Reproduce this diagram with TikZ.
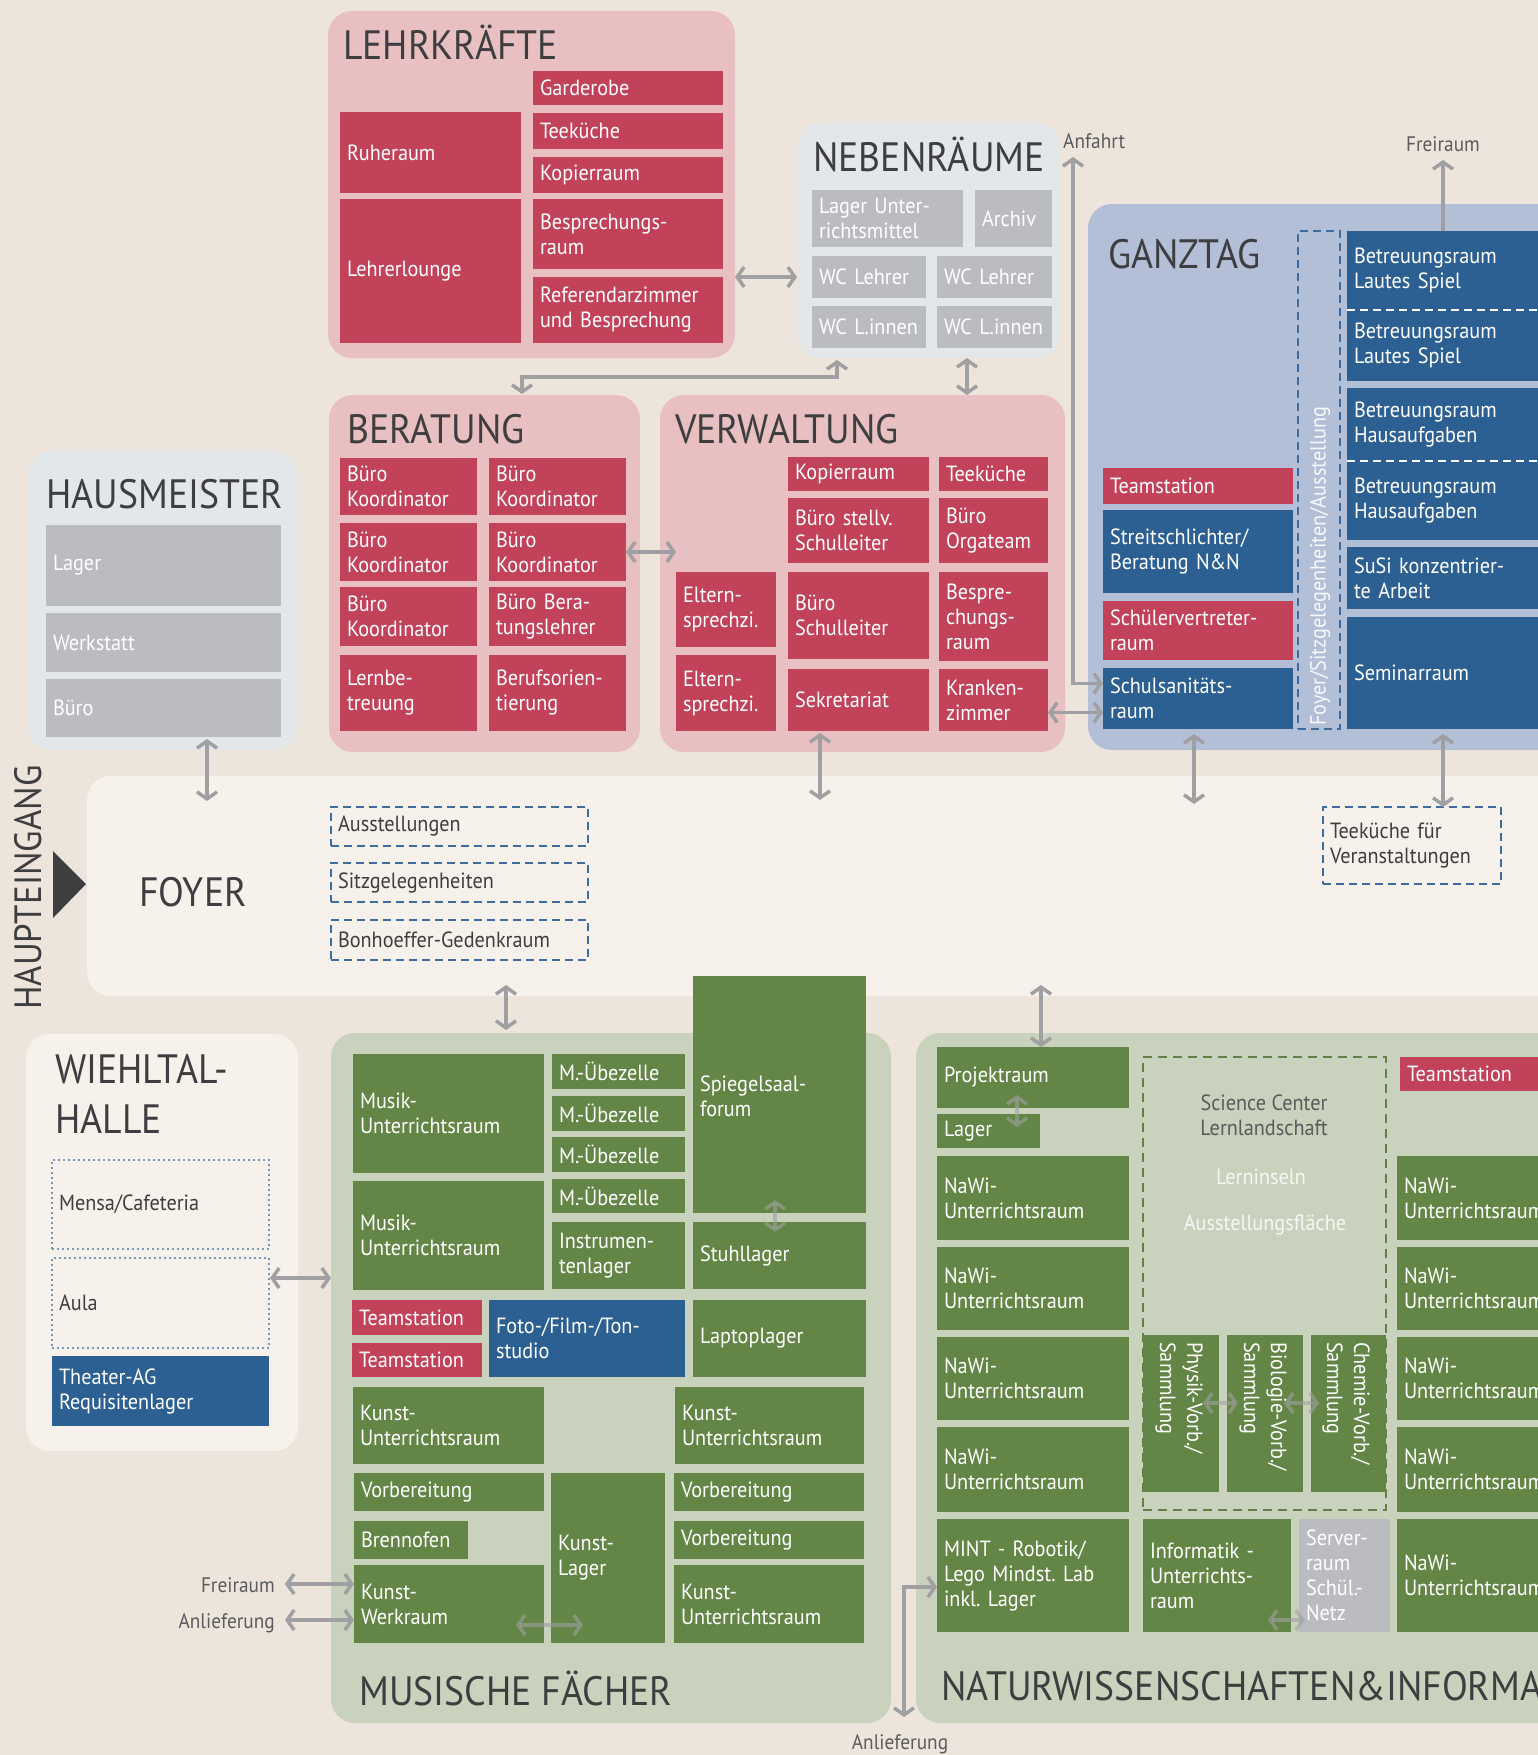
\documentclass[tikz,border=0pt]{standalone}
\usepackage{fontspec}
\setmainfont{PT Sans}[FakeStretch=0.92]
\usetikzlibrary{arrows.meta}

\definecolor{cBg}{RGB}{237,229,219}
\definecolor{cPinkGrp}{RGB}{232,192,193}
\definecolor{cRed}{RGB}{193,66,89}
\definecolor{cGreyGrp}{RGB}{228,231,233}
\definecolor{cGrey}{RGB}{186,188,191}
\definecolor{cBlueGrp}{RGB}{179,190,215}
\definecolor{cBlue}{RGB}{44,95,146}
\definecolor{cFoyer}{RGB}{246,242,235}
\definecolor{cGreenGrp}{RGB}{201,210,188}
\definecolor{cGreen}{RGB}{99,134,70}
\definecolor{cGreenDash}{RGB}{98,128,70}
\definecolor{cArrow}{RGB}{160,160,163}
\definecolor{cTitle}{RGB}{62,62,64}
\definecolor{cDash}{RGB}{60,108,160}

\tikzset{
  >={Straight Barb[length=7pt,width=20pt]},
  grp/.style={anchor=north west, rounded corners=24pt, inner sep=0pt, outer sep=0pt},
  room/.style={anchor=north west, inner xsep=7pt, inner ysep=0pt, outer sep=0pt,
    align=left, text=white, font=\fontsize{22}{25}\selectfont},
  redroom/.style={room, fill=cRed},
  greyroom/.style={room, fill=cGrey},
  blueroom/.style={room, fill=cBlue},
  greenroom/.style={room, fill=cGreen},
  dashroom/.style={room, text=cTitle, draw=cDash, line width=2.5pt, dash pattern=on 8pt off 5pt},
  dotroom/.style={room, text=cTitle, draw=cDash!70, line width=1.8pt, dash pattern=on 1.8pt off 3.2pt},
  scibox/.style={room, draw=cGreenDash, line width=2.5pt, dash pattern=on 9pt off 6pt},
  grptitle/.style={anchor=base west, inner sep=0pt, text=cTitle, font=\fontsize{41}{46}\selectfont},
  lbl/.style={inner sep=0pt, text=cTitle!85, font=\fontsize{21}{24}\selectfont},
  rottext/.style={inner sep=0pt, align=left, text=white, font=\fontsize{22}{27}\selectfont},
  arr/.style={draw=cArrow, line width=3.5pt, <->},
  arrend/.style={draw=cArrow, line width=3.5pt, ->},
  arrfade/.style={arr, draw opacity=0.6},
}

% room box from its two corners (pixel units)
\newcommand\roombox[7]{%
  \pgfmathsetmacro\roomw{#5-#3-14}%
  \pgfmathsetmacro\roomh{#6-#4}%
  \node[#1, text width=\roomw pt, minimum height=\roomh pt] (#2) at (#3,#4) {#7};}
\newcommand\groupbox[6]{%
  \pgfmathsetmacro\grpw{#5-#3}%
  \pgfmathsetmacro\grph{#6-#4}%
  \node[grp, fill=#1, minimum width=\grpw pt, minimum height=\grph pt] (#2) at (#3,#4) {};}

\begin{document}
\begin{tikzpicture}[x=1pt, y=-1pt]

    \path[use as bounding box] (0,0) rectangle (1538,1755);
    \clip (0,0) rectangle (1538,1755);
    \fill[cBg] (0,0) rectangle (1538,1755);

    % groups
    \groupbox{cPinkGrp}{lehr}{328}{11}{735}{358}
    \groupbox{cGreyGrp}{neben}{797}{123}{1060}{358}
    \groupbox{cBlueGrp}{ganz}{1088}{204}{1580}{750}
    \groupbox{cGreyGrp}{haus}{28}{451}{298}{750}
    \groupbox{cPinkGrp}{berat}{329}{395}{640}{752}
    \groupbox{cPinkGrp}{verw}{660}{395}{1065}{752}
    \groupbox{cFoyer}{foyer}{87}{776}{1580}{996}
    \groupbox{cFoyer}{wiehl}{26}{1034}{298}{1451}
    \groupbox{cGreenGrp}{musi}{331}{1033}{891}{1723}
    \groupbox{cGreenGrp}{nawi}{916}{1033}{1580}{1723}

    % titles
    \node[grptitle] (tLehr) at (343,60) {LEHRKRÄFTE};
    \node[grptitle] (tNeben) at (813,172) {NEBENRÄUME};
    \node[grptitle] (tGanz) at (1108,268) {GANZTAG};
    \node[grptitle] (tHaus) at (46,508) {HAUSMEISTER};
    \node[grptitle] (tBerat) at (347,443) {BERATUNG};
    \node[grptitle] (tVerw) at (675,443) {VERWALTUNG};
    \node[grptitle] (tFoyer) at (139,906) {FOYER};
    \node[grptitle] (tWiehlA) at (55,1083) {WIEHLTAL-};
    \node[grptitle] (tWiehlB) at (55,1133) {HALLE};
    \node[grptitle] (tMusi) at (359,1705) {MUSISCHE FÄCHER};
    \node[grptitle] (tNawi) at (941,1700) {NATURWISSENSCHAFTEN\&INFORMATIK};
    \node[grptitle, rotate=90, anchor=base west, font=\fontsize{38}{42}\selectfont] (tEingang) at (41,1010) {HAUPTEINGANG};
    \fill[cTitle] (53,851) -- (86,884) -- (53,918) -- cycle;

    % Lehrkraefte
    \roombox{redroom}{garderobe}{533}{71}{723}{105}{Garderobe}
    \roombox{redroom}{ruheraum}{340}{112}{521}{193}{Ruheraum}
    \roombox{redroom}{teeL}{533}{113}{723}{149}{Teeküche}
    \roombox{redroom}{kopierL}{533}{157}{723}{193}{Kopierraum}
    \roombox{redroom}{besprL}{533}{199}{723}{269}{Besprechungs-\\raum}
    \roombox{redroom}{lounge}{340}{199}{521}{343}{Lehrerlounge}
    \roombox{redroom}{referendar}{533}{277}{723}{343}{Referendarzimmer\\und~Besprechung}

    % Nebenraeume
    \roombox{greyroom}{lagerUM}{812}{190}{963}{247}{Lager~Unter-\\richtsmittel}
    \roombox{greyroom}{archiv}{975}{190}{1052}{247}{Archiv}
    \roombox{greyroom}{wcLA}{812}{256}{926}{298}{WC~Lehrer}
    \roombox{greyroom}{wcLB}{937}{256}{1052}{298}{WC~Lehrer}
    \roombox{greyroom}{wcIA}{812}{306}{926}{348}{WC~L.innen}
    \roombox{greyroom}{wcIB}{937}{306}{1052}{348}{WC~L.innen}

    % Ganztag
    \roombox{blueroom}{lautA}{1347}{231}{1560}{310}{Betreuungsraum\\Lautes~Spiel}
    \roombox{blueroom}{lautB}{1347}{310}{1560}{381}{Betreuungsraum\\Lautes~Spiel}
    \roombox{blueroom}{hausaufA}{1347}{388}{1560}{461}{Betreuungsraum\\Hausaufgaben}
    \roombox{blueroom}{hausaufB}{1347}{461}{1560}{540}{Betreuungsraum\\Hausaufgaben}
    \roombox{blueroom}{susi}{1347}{547}{1560}{609}{SuSi~konzentrier-\\te~Arbeit}
    \roombox{blueroom}{seminar}{1347}{617}{1560}{729}{Seminarraum}
    \draw[white, line width=2.5pt, dash pattern=on 8pt off 5pt] (lautA.south west) -- (lautA.south east);
    \draw[white, line width=2.5pt, dash pattern=on 8pt off 5pt] (hausaufA.south west) -- (hausaufA.south east);
    \roombox{redroom}{teamG}{1103}{468}{1293}{504}{Teamstation}
    \roombox{blueroom}{streit}{1103}{510}{1293}{593}{Streitschlichter/\\Beratung~N\&N}
    \roombox{redroom}{schuelerV}{1103}{601}{1293}{660}{Schülervertreter-\\raum}
    \roombox{blueroom}{sani}{1103}{668}{1293}{729}{Schulsanitäts-\\raum}
    \roombox{dashroom}{foyerStrip}{1298}{231}{1340}{729}{}
    \node[rottext, rotate=90, anchor=west, text=white!90!cBlueGrp] (foyerStripTxt) at (1320,726) {Foyer/Sitzgelegenheiten/Ausstellung};

    % Hausmeister
    \roombox{greyroom}{lagerH}{46}{525}{281}{606}{Lager}
    \roombox{greyroom}{werkstatt}{46}{613}{281}{672}{Werkstatt}
    \roombox{greyroom}{bueroH}{46}{679}{281}{737}{Büro}

    % Beratung
    \foreach \n/\ya/\yb in {A/458/515, B/523/581, C/587/646} {
        \roombox{redroom}{koord\n}{340}{\ya}{477}{\yb}{Büro\\Koordinator}
    }
    \roombox{redroom}{koordD}{489}{458}{626}{515}{Büro\\Koordinator}
    \roombox{redroom}{koordE}{489}{523}{626}{581}{Büro\\Koordinator}
    \roombox{redroom}{beratL}{489}{587}{626}{646}{Büro~Bera-\\tungslehrer}
    \roombox{redroom}{lernbe}{340}{655}{477}{731}{Lernbe-\\treuung}
    \roombox{redroom}{berufs}{489}{655}{626}{731}{Berufsorien-\\tierung}

    % Verwaltung
    \roombox{redroom}{kopierV}{788}{457}{929}{491}{Kopierraum}
    \roombox{redroom}{teeV}{939}{457}{1048}{491}{Teeküche}
    \roombox{redroom}{stellv}{788}{498}{929}{563}{Büro~stellv.\\Schulleiter}
    \roombox{redroom}{orga}{939}{498}{1048}{563}{Büro\\Orgateam}
    \roombox{redroom}{elternA}{676}{572}{776}{647}{Eltern-\\sprechzi.}
    \roombox{redroom}{schulleiter}{788}{572}{929}{659}{Büro\\Schulleiter}
    \roombox{redroom}{besprV}{939}{572}{1048}{661}{Bespre-\\chungs-\\raum}
    \roombox{redroom}{elternB}{676}{655}{776}{731}{Eltern-\\sprechzi.}
    \roombox{redroom}{sekretariat}{788}{669}{929}{731}{Sekretariat}
    \roombox{redroom}{kranken}{939}{669}{1048}{731}{Kranken-\\zimmer}

    % Foyer
    \roombox{dashroom}{ausst}{331}{807}{588}{846}{Ausstellungen}
    \roombox{dashroom}{sitz}{331}{863}{588}{902}{Sitzgelegenheiten}
    \roombox{dashroom}{bonh}{331}{920}{588}{960}{Bonhoeffer-Gedenkraum}
    \roombox{dashroom}{teekVer}{1323}{807}{1501}{884}{Teeküche~für\\Veranstaltungen}

    % Wiehltal-Halle
    \roombox{dotroom}{mensa}{52}{1160}{269}{1249}{Mensa/Cafeteria}
    \roombox{dotroom}{aula}{52}{1258}{269}{1348}{Aula}
    \roombox{blueroom}{theater}{52}{1356}{269}{1426}{Theater-AG\\Requisitenlager}

    % Musische Faecher
    \roombox{greenroom}{musikA}{353}{1054}{544}{1173}{Musik-\\Unterrichtsraum}
    \roombox{greenroom}{musikB}{353}{1181}{544}{1290}{Musik-\\Unterrichtsraum}
    \foreach \n/\ya/\yb in {A/1054/1089, B/1096/1131, C/1137/1172, D/1179/1213} {
        \roombox{greenroom}{uebe\n}{552}{\ya}{685}{\yb}{M.-Übezelle}
    }
    \roombox{greenroom}{instrument}{552}{1222}{685}{1289}{Instrumen-\\tenlager}
    \roombox{greenroom}{spiegel}{693}{976}{866}{1213}{}
    \node[room, anchor=north west] (spiegelTxt) at (693,1076) {Spiegelsaal-\\forum};
    \roombox{greenroom}{stuhl}{693}{1222}{866}{1289}{Stuhllager}
    \roombox{redroom}{teamMA}{352}{1300}{482}{1335}{Teamstation}
    \roombox{redroom}{teamMB}{352}{1343}{482}{1377}{Teamstation}
    \roombox{blueroom}{studio}{489}{1300}{685}{1377}{Foto-/Film-/Ton-\\studio}
    \roombox{greenroom}{laptop}{693}{1300}{866}{1377}{Laptoplager}
    \roombox{greenroom}{kunstA}{353}{1387}{544}{1464}{Kunst-\\Unterrichtsraum}
    \roombox{greenroom}{kunstB}{675}{1387}{864}{1464}{Kunst-\\Unterrichtsraum}
    \roombox{greenroom}{vorbA}{354}{1473}{544}{1511}{Vorbereitung}
    \roombox{greenroom}{brenn}{354}{1521}{468}{1559}{Brennofen}
    \roombox{greenroom}{werkraum}{354}{1565}{544}{1643}{Kunst-\\Werkraum}
    \roombox{greenroom}{kunstlager}{551}{1473}{665}{1643}{Kunst-\\Lager}
    \roombox{greenroom}{vorbB}{674}{1473}{864}{1511}{Vorbereitung}
    \roombox{greenroom}{vorbC}{674}{1521}{864}{1559}{Vorbereitung}
    \roombox{greenroom}{kunstC}{674}{1565}{864}{1643}{Kunst-\\Unterrichtsraum}

    % Naturwissenschaften
    \roombox{greenroom}{projekt}{937}{1047}{1129}{1108}{Projektraum}
    \roombox{greenroom}{lagerN}{937}{1114}{1040}{1148}{Lager}
    \foreach \n/\ya/\yb in {A/1156/1240, B/1247/1330, C/1337/1420, D/1427/1512} {
        \roombox{greenroom}{nawiL\n}{937}{\ya}{1129}{\yb}{NaWi-\\Unterrichtsraum}
        \roombox{greenroom}{nawiR\n}{1397}{\ya}{1580}{\yb}{NaWi-\\Unterrichtsraum}
    }
    \roombox{greenroom}{nawiRE}{1397}{1519}{1580}{1632}{NaWi-\\Unterrichtsraum}
    \roombox{redroom}{teamN}{1400}{1057}{1580}{1091}{Teamstation}
    \roombox{greenroom}{mint}{937}{1519}{1129}{1632}{MINT~-~Robotik/\\Lego~Mindst.~Lab\\inkl.~Lager}
    \roombox{greenroom}{informatik}{1143}{1519}{1291}{1632}{Informatik~-\\Unterrichts-\\raum}
    \roombox{greyroom}{server}{1299}{1519}{1390}{1632}{Server-\\raum\\Schül.-\\Netz}
    \roombox{scibox}{science}{1143}{1057}{1386}{1510}{}
    \node[lbl, align=center, font=\fontsize{22}{25}\selectfont] (sciTxt) at (1264,1115) {Science Center\\Lernlandschaft};
    \node[lbl, text=white!85!cGreenGrp, font=\fontsize{22}{25}\selectfont] (inseln) at (1261,1177) {Lerninseln};
    \node[lbl, text=white!85!cGreenGrp, font=\fontsize{22}{25}\selectfont] (ausstFl) at (1265,1225) {Ausstellungsfläche};
    \roombox{greenroom}{physik}{1143}{1335}{1219}{1492}{}
    \roombox{greenroom}{bio}{1227}{1335}{1303}{1492}{}
    \roombox{greenroom}{chemie}{1311}{1335}{1386}{1492}{}
    \node[rottext, rotate=-90, anchor=north west] (physikTxt) at (1203,1342) {Physik-Vorb./\\Sammlung};
    \node[rottext, rotate=-90, anchor=north west] (bioTxt) at (1287,1342) {Biologie-Vorb./\\Sammlung};
    \node[rottext, rotate=-90, anchor=north west] (chemieTxt) at (1370,1342) {Chemie-Vorb./\\Sammlung};

    % connectors
    \coordinate (nbFoot) at (837,360);
    \coordinate (beratTop) at (522,394);
    \coordinate (nbVw) at (967,0);
    \coordinate (anfahrt) at (1073,157);
    \coordinate (saniA) at ([yshift=15pt]sani.west);
    \coordinate (saniB) at ([yshift=-14pt]sani.west);
    \coordinate (freiTop) at (1443,160);
    \coordinate (hmTop) at (207,739);
    \coordinate (hmFoot) at (207,801);
    \coordinate (vwTop) at (820,733);
    \coordinate (vwFoot) at (820,800);
    \coordinate (gtTop) at (1194,734);
    \coordinate (gtFoot) at (1194,804);
    \coordinate (semTop) at (1443,734);
    \coordinate (fyMusi) at (506,985);
    \coordinate (musiTop) at (506,1030);
    \coordinate (fyNawi) at (1041,985);
    \coordinate (wiehlR) at (270,1278);
    \coordinate (lieferKnee) at (904,1587);
    \coordinate (lieferEnd) at (904,1717);
    \coordinate (freiL) at (285,1584);
    \coordinate (lieferL) at (285,1620);
    \coordinate (spA) at (775,1200);
    \coordinate (spB) at (775,1232);
    \coordinate (wkA) at (516,1625);
    \coordinate (wkB) at (583,1625);
    \coordinate (prA) at (1017,1095);
    \coordinate (prB) at (1017,1127);
    \coordinate (phA) at (1203,1403);
    \coordinate (phB) at (1238,1403);
    \coordinate (biA) at (1284,1403);
    \coordinate (biB) at (1319,1403);
    \coordinate (infA) at (1268,1620);
    \coordinate (infB) at (1305,1620);

    \draw[arr] (lehr.east |- wcLA.west) -- (neben.west |- wcLA.west);
    \draw[arr] (nbFoot) -- ++(0,17) -| (beratTop);
    \draw[arr] (neben.south -| nbVw) -- (verw.north -| nbVw);
    \draw[arr] (anfahrt) |- (saniA);
    \draw[arr] (kranken.east |- saniB) -- (saniB);
    \draw[arrend] (lautA.north -| freiTop) -- (freiTop);
    \draw[arr, shorten >=-16pt] (koordE.east) -- (verw.west |- koordE.east);
    \draw[arr] (hmTop) -- (hmFoot);
    \draw[arr] (vwTop) -- (vwFoot);
    \draw[arr] (gtTop) -- (gtFoot);
    \draw[arr] (semTop) -- (teekVer.north -| semTop);
    \draw[arr] (fyMusi) -- (musiTop);
    \draw[arr] (fyNawi) -- (projekt.north -| fyNawi);
    \draw[arr] (wiehlR) -- (musi.west |- wiehlR);
    \draw[arr] (freiL) -- (werkraum.west |- freiL);
    \draw[arr] (lieferL) -- (werkraum.west |- lieferL);
    \draw[arr] (lieferEnd) -- (lieferKnee) -- (mint.west |- lieferKnee);
    \draw[arrfade] (spA) -- (spB);
    \draw[arrfade] (wkA) -- (wkB);
    \draw[arrfade] (prA) -- (prB);
    \draw[arrfade] (phA) -- (phB);
    \draw[arrfade] (biA) -- (biB);
    \draw[arrfade] (infA) -- (infB);

    % labels
    \node[lbl, anchor=base west] (anfahrtLbl) at (1063,149) {Anfahrt};
    \node[lbl, anchor=base] (freiTopLbl) at (1443,152) {Freiraum};
    \node[lbl, anchor=base east] (freiLbl) at (275,1592) {Freiraum};
    \node[lbl, anchor=base east] (lieferLbl) at (275,1628) {Anlieferung};
    \node[lbl, anchor=base] (lieferBotLbl) at (900,1749) {Anlieferung};

\end{tikzpicture}
\end{document}
